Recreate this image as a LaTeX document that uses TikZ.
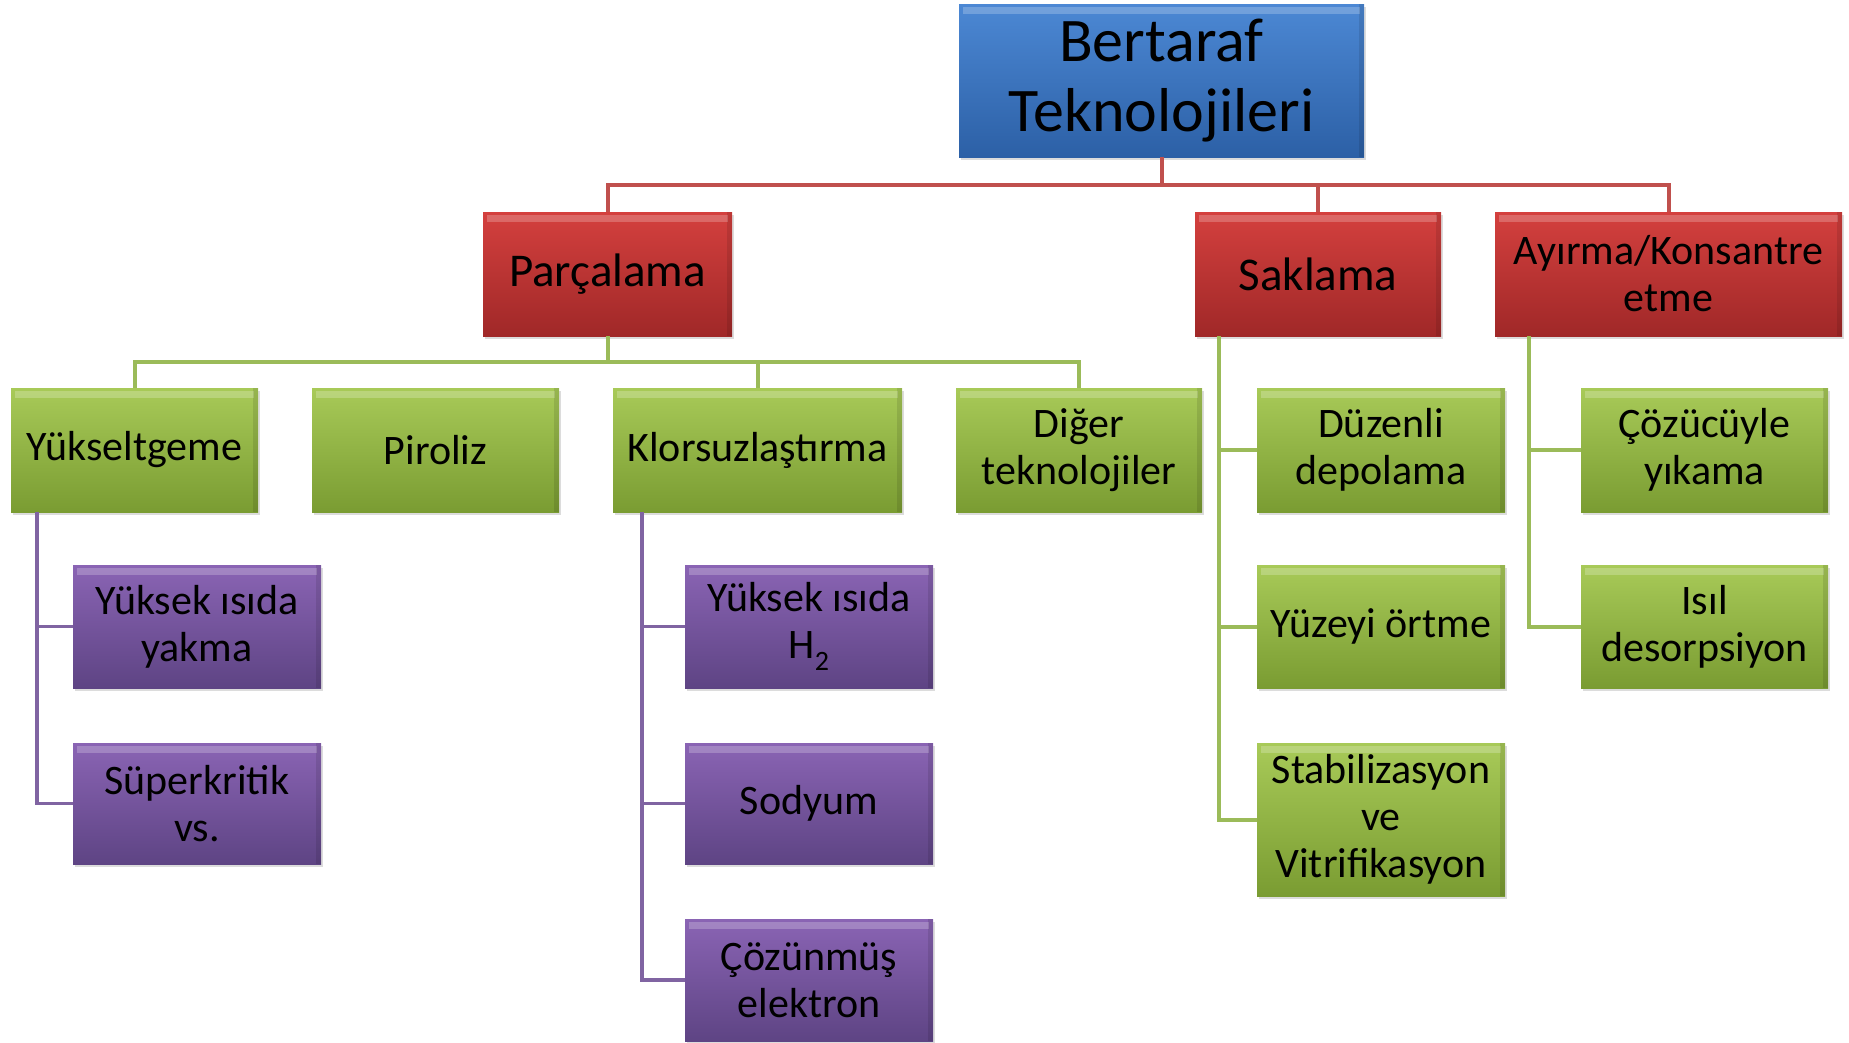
\documentclass[tikz,border=0pt]{standalone}
\usepackage{fontspec}
\setmainfont{Carlito}
\usetikzlibrary{shadows}
\definecolor{lred}{HTML}{C0504D}
\definecolor{lgreen}{HTML}{9BBB59}
\definecolor{lpurple}{HTML}{8064A2}
\definecolor{bluetop}{RGB}{76,136,212}
\definecolor{bluebot}{RGB}{44,96,166}
\definecolor{redtop}{RGB}{212,64,62}
\definecolor{redbot}{RGB}{160,40,40}
\definecolor{greentop}{RGB}{168,202,88}
\definecolor{greenbot}{RGB}{122,156,50}
\definecolor{purpletop}{RGB}{138,100,180}
\definecolor{purplebot}{RGB}{94,68,132}
\tikzset{
  box/.style={rectangle, inner sep=0pt, align=center, text=black,
    drop shadow={shadow xshift=2pt, shadow yshift=-3pt, fill=black!30, opacity=0.45},
    path picture={\fill[white,opacity=0.22] ([shift={(4pt,-3pt)}]path picture bounding box.north west) rectangle ([shift={(-4pt,-10pt)}]path picture bounding box.north east);
                  \fill[black,opacity=0.10] ([shift={(-5pt,0pt)}]path picture bounding box.north east) rectangle (path picture bounding box.south east);}},
  bluebox/.style={box, top color=bluetop, bottom color=bluebot},
  redbox/.style={box, top color=redtop, bottom color=redbot},
  greenbox/.style={box, top color=greentop, bottom color=greenbot},
  purplebox/.style={box, top color=purpletop, bottom color=purplebot},
  fa/.style={font=\fontsize{62}{70}\selectfont},
  fb/.style={font=\fontsize{47}{53}\selectfont},
  fc/.style={font=\fontsize{42}{47}\selectfont},
  rl/.style={draw=lred, line width=4pt},
  gl/.style={draw=lgreen, line width=4pt},
  pl/.style={draw=lpurple, line width=3.5pt},
}
\begin{document}
\begin{tikzpicture}[x=1pt,y=-1pt]
\useasboundingbox (0,0) rectangle (1849,1042);
% level 0
\node[bluebox, fa, minimum width=405pt, minimum height=153pt] (root) at (1161.5,80.5) {Bertaraf\\Teknolojileri};
% level 1
\node[redbox, fb, minimum width=249pt, minimum height=124pt] (parc) at (607.5,274) {Parçalama};
\node[redbox, fb, minimum width=246pt, minimum height=124pt] (sakl) at (1318,274) {Saklama};
\node[redbox, fc, minimum width=347pt, minimum height=124pt] (ayir) at (1668.5,274) {Ayırma/Konsantre\\etme};
% level 2
\node[greenbox, fc, minimum width=247pt, minimum height=124pt] (yuks) at (134.5,450) {Yükseltgeme};
\node[greenbox, fc, minimum width=247pt, minimum height=124pt] (piro) at (435.5,450) {Piroliz};
\node[greenbox, fc, minimum width=289pt, minimum height=124pt] (klor) at (757.5,450) {Klorsuzlaştırma};
\node[greenbox, fc, minimum width=246pt, minimum height=124pt] (dige) at (1079,450) {Diğer\\teknolojiler};
\node[greenbox, fc, minimum width=248pt, minimum height=124pt] (duz) at (1381,450) {Düzenli\\depolama};
\node[greenbox, fc, minimum width=247pt, minimum height=124pt] (coz) at (1704.5,450) {Çözücüyle\\yıkama};
% level 3
\node[purplebox, fc, minimum width=248pt, minimum height=123pt] (yyak) at (197,626.5) {Yüksek ısıda\\yakma};
\node[purplebox, fc, minimum width=248pt, minimum height=121pt] (super) at (197,803.5) {Süperkritik\\vs.};
\node[purplebox, fc, minimum width=248pt, minimum height=123pt] (h2) at (809,626.5) {Yüksek ısıda\\H\raisebox{-0.3em}{\fontsize{28}{28}\selectfont 2}};
\node[purplebox, fc, minimum width=248pt, minimum height=121pt] (sod) at (809,803.5) {Sodyum};
\node[purplebox, fc, minimum width=248pt, minimum height=122pt] (coze) at (809,980) {Çözünmüş\\elektron};
\node[greenbox, fc, minimum width=248pt, minimum height=123pt] (yuz) at (1381,626.5) {Yüzeyi örtme};
\node[greenbox, fc, minimum width=248pt, minimum height=153pt] (stab) at (1381,819.5) {Stabilizasyon\\ve\\Vitrifikasyon};
\node[greenbox, fc, minimum width=247pt, minimum height=123pt] (isil) at (1704.5,626.5) {Isıl\\desorpsiyon};
% connectors
\draw[rl] (root.south) -- ++(0,28) -| (parc.north);
\draw[rl] (root.south) -- ++(0,28) -| (sakl.north);
\draw[rl] (root.south) -- ++(0,28) -| (ayir.north);
\draw[gl] (parc.south) -- ++(0,26) -| (yuks.north);
\draw[gl] (parc.south) -- ++(0,26) -| (klor.north);
\draw[gl] (parc.south) -- ++(0,26) -| (dige.north);
\draw[pl] ([xshift=26pt]yuks.south west) |- (yyak.west);
\draw[pl] ([xshift=26pt]yuks.south west) |- (super.west);
\draw[pl] ([xshift=29pt]klor.south west) |- (h2.west);
\draw[pl] ([xshift=29pt]klor.south west) |- (sod.west);
\draw[pl] ([xshift=29pt]klor.south west) |- (coze.west);
\draw[gl] ([xshift=24pt]sakl.south west) |- (duz.west);
\draw[gl] ([xshift=24pt]sakl.south west) |- (yuz.west);
\draw[gl] ([xshift=24pt]sakl.south west) |- (stab.west);
\draw[gl] ([xshift=34pt]ayir.south west) |- (coz.west);
\draw[gl] ([xshift=34pt]ayir.south west) |- (isil.west);
\end{tikzpicture}
\end{document}
